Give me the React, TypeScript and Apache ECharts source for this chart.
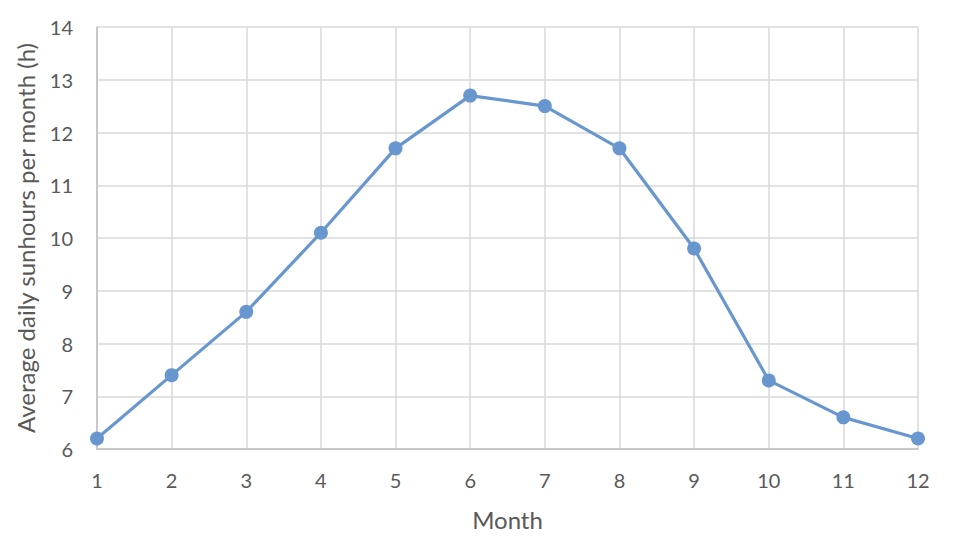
import React, { useEffect, useRef } from "react";
import * as echarts from "echarts";

const months = ["1", "2", "3", "4", "5", "6", "7", "8", "9", "10", "11", "12"];
const sunHours = [6.2, 7.4, 8.6, 10.1, 11.7, 12.7, 12.5, 11.7, 9.8, 7.3, 6.6, 6.2];

const FONT = "Lato, 'Open Sans', sans-serif";

export default function App() {
  const ref = useRef<HTMLDivElement>(null);
  useEffect(() => {
    if (!ref.current) return;
    const chart = echarts.init(ref.current, undefined, { renderer: "svg" });
    chart.setOption({
      animation: false,
      backgroundColor: "#ffffff",
      grid: { left: 97, right: 50, top: 27, bottom: 103, containLabel: false },
      xAxis: {
        type: "category",
        data: months,
        boundaryGap: false,
        name: "Month",
        nameLocation: "middle",
        nameGap: 58,
        nameTextStyle: { fontFamily: FONT, fontSize: 24, color: "#595959" },
        axisLine: { show: true, lineStyle: { color: "#bfbfbf", width: 1.5 } },
        axisTick: { show: false },
        axisLabel: { fontFamily: FONT, fontSize: 20, color: "#595959", margin: 21 },
        splitLine: { show: true, lineStyle: { color: "#d9d9d9", width: 1.5 } },
      },
      yAxis: {
        type: "value",
        min: 6,
        max: 14,
        interval: 1,
        name: "Average daily sunhours per month (h)",
        nameLocation: "middle",
        nameGap: 60,
        nameTextStyle: { fontFamily: FONT, fontSize: 24, color: "#595959" },
        axisLine: { show: true, lineStyle: { color: "#bfbfbf", width: 1.5 } },
        axisTick: { show: false },
        axisLabel: { fontFamily: FONT, fontSize: 20, color: "#595959", margin: 24 },
        splitLine: { show: true, lineStyle: { color: "#d9d9d9", width: 1.5 } },
      },
      series: [
        {
          type: "line",
          data: sunHours,
          symbol: "circle",
          symbolSize: 14,
          lineStyle: { color: "#6897cf", width: 3.2 },
          itemStyle: { color: "#6897cf" },
        },
      ],
    });
    return () => chart.dispose();
  }, []);
  return (
    <div
      ref={ref}
      style={{ position: "fixed", left: 0, top: 0, width: 968, height: 552, background: "#fff" }}
    />
  );
}
